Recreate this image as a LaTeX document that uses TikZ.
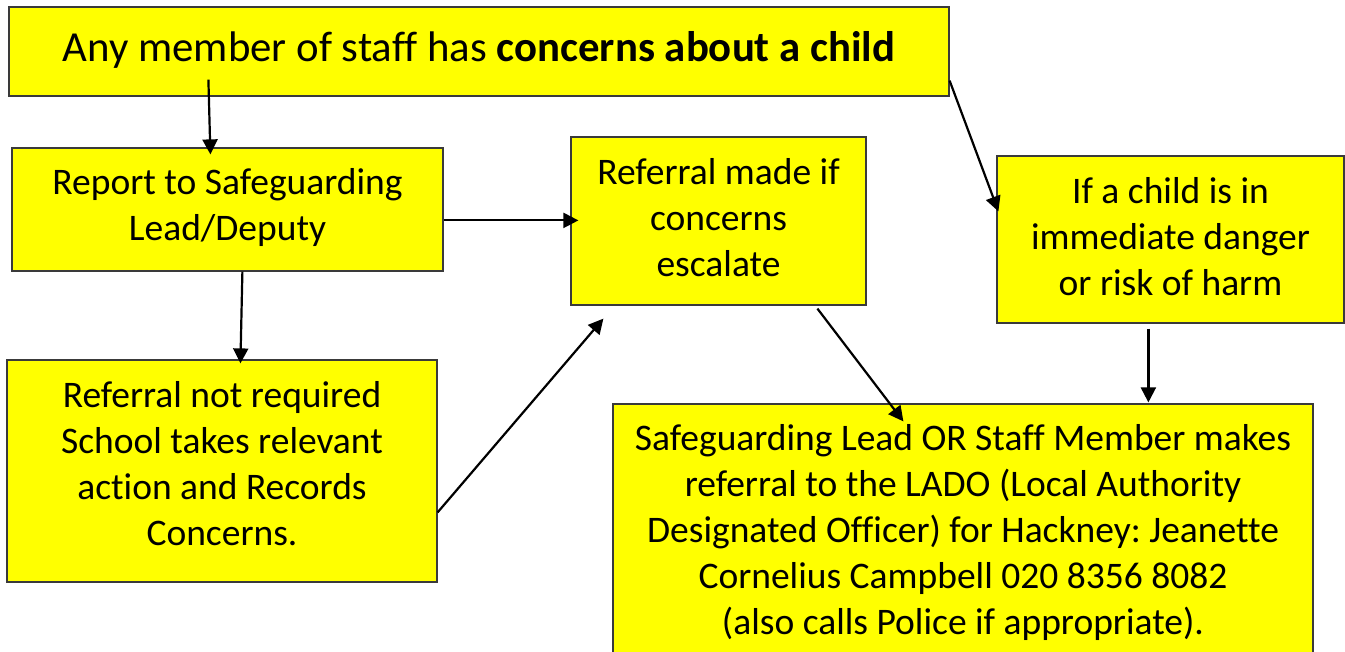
\documentclass[tikz,border=0pt]{standalone}
\usepackage{fontspec}
\setmainfont{Carlito}[Ligatures=NoCommon]
\usetikzlibrary{arrows.meta,calc}

\definecolor{boxfill}{HTML}{FFFF00}
\definecolor{boxline}{HTML}{3A3A3A}

\tikzset{
  flowbox/.style={draw=boxline, line width=1.2pt, fill=boxfill, rectangle,
    inner sep=0pt},
  flowtext/.style={inner sep=0pt, align=center,
    font=\fontsize{37.5}{46}\selectfont},
  arr/.style={draw=black, line width=2.2pt,
    -{Triangle[length=15pt,width=15pt]}},
}

\begin{document}
\frenchspacing
\begin{tikzpicture}[x=1pt,y=-1pt]
  \useasboundingbox (0,0) rectangle (1345,652);
  \begin{scope}
  \clip (0,0) rectangle (1345,652);

  % boxes
  \node[flowbox, minimum width=940pt, minimum height=89pt] (top) at (479,51.5) {};
  \node[flowbox, minimum width=431pt, minimum height=123pt] (report) at (227.5,209.5) {};
  \node[flowbox, minimum width=295pt, minimum height=168pt] (esc) at (718.5,221) {};
  \node[flowbox, minimum width=347pt, minimum height=167pt] (danger) at (1170.5,239.5) {};
  \node[flowbox, minimum width=430pt, minimum height=222pt] (notreq) at (222,471) {};
  \node[flowbox, minimum width=700pt, minimum height=256pt] (lado) at (963,532) {};

  % box texts
  \node[flowtext, font=\fontsize{42.8}{50}\selectfont] (top-t) at ([yshift=2pt]top.center)
    {Any member of staff has \textbf{concerns about a child}};
  \node[flowtext] (report-t) at ([yshift=2pt]report.center)
    {Report to Safeguarding\\Lead/Deputy};
  \node[flowtext] (esc-t) at ([yshift=3pt]esc.center)
    {Referral made if\\concerns\\escalate};
  \node[flowtext] (danger-t) at ([yshift=3pt]danger.center)
    {If a child is in\\immediate danger\\or risk of harm};
  \node[flowtext] (notreq-t) at ([yshift=7pt]notreq.center)
    {Referral not required\\School takes relevant\\action and Records\\Concerns.};
  \node[flowtext] (lado-t) at ([yshift=-1pt]lado.center)
    {Safeguarding Lead OR Staff Member makes\\referral to the LADO (Local Authority\\Designated Officer) for Hackney: Jeanette\\Cornelius Campbell 020 8356 8082\\(also calls Police if appropriate).};

  % connectors
  \draw[arr] ($(top.south west)+(200,-17)$) -- ($(report.north west)+(199,7)$);
  \draw[arr] ($(top.south east)+(0,-16)$) -- ($(danger.north west)+(2,56)$);
  \draw[arr] ($(report.north east)+(0,73)$) -- ($(esc.north west)+(8,84)$);
  \draw[arr] ($(report.south west)+(231,0)$) -- ($(notreq.north west)+(234,4)$);
  \draw[arr] ($(notreq.north east)+(0,153)$) -- ($(esc.south west)+(33,13)$);
  \draw[arr] ($(esc.south west)+(247,3)$) -- ($(lado.north west)+(291,18)$);
  \draw[arr] ($(danger.south west)+(152,5)$) -- ($(lado.north west)+(536,-1)$);
  \end{scope}
\end{tikzpicture}
\end{document}
